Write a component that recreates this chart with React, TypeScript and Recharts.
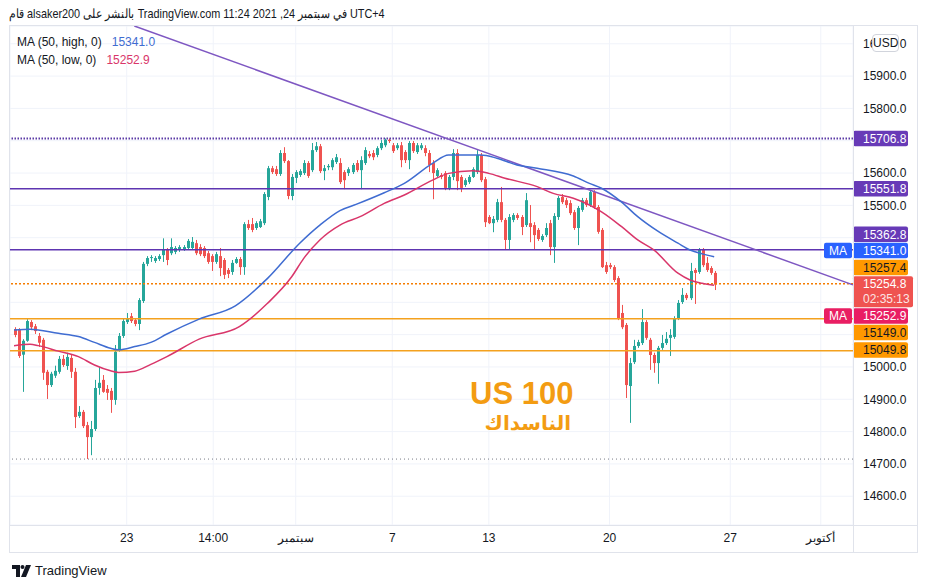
import React from 'react';
import { ComposedChart, Bar, Line, XAxis, YAxis, CartesianGrid, ReferenceLine } from 'recharts';

// ---- 4h candles (slot index = position in series) ----
const candleOpen = [
  15117, 15114, 15038, 15081, 15139, 15126, 15096, 15084, 14985, 14944,
  14973, 14985, 15025, 15003, 15028, 14985, 14848, 14861, 14820, 14783,
  14808, 14935, 14960, 14932, 14926, 14898, 15053, 15096, 15139, 15157,
  15145, 15133, 15204, 15319, 15337, 15328, 15334, 15346, 15362, 15352,
  15356, 15362, 15365, 15368, 15368, 15383, 15371, 15368, 15352, 15343,
  15325, 15343, 15331, 15300, 15294, 15322, 15334, 15309, 15442, 15442,
  15430, 15433, 15445, 15526, 15615, 15612, 15597, 15662, 15637, 15529,
  15585, 15594, 15600, 15631, 15609, 15671, 15683, 15606, 15618, 15618,
  15634, 15631, 15603, 15600, 15603, 15631, 15609, 15631, 15659, 15662,
  15656, 15677, 15686, 15703, 15686, 15677, 15686, 15665, 15640, 15693,
  15665, 15677, 15677, 15662, 15631, 15591, 15594, 15600, 15554, 15588,
  15662, 15588, 15563, 15572, 15588, 15603, 15656, 15581, 15464, 15445,
  15455, 15510, 15455, 15393, 15455, 15470, 15464, 15439, 15445, 15439,
  15424, 15393, 15408, 15445, 15371, 15464, 15526, 15516, 15507, 15479,
  15430, 15486, 15516, 15501, 15541, 15495, 15424, 15315, 15315, 15309,
  15275, 15167, 15130, 14941, 15015, 15065, 15074, 15139, 15084, 15037,
  15012, 15059, 15074, 15090, 15093, 15151, 15201, 15223, 15213, 15300,
  15294, 15362, 15322, 15306, 15291,
];
const candleHigh = [
  15123, 15120, 15086, 15148, 15145, 15133, 15105, 15090, 14991, 14985,
  15004, 15034, 15037, 15044, 15037, 14997, 14879, 14867, 14830, 14833,
  14960, 15000, 14975, 14944, 14935, 15068, 15105, 15151, 15167, 15167,
  15151, 15213, 15325, 15343, 15346, 15343, 15349, 15398, 15368, 15398,
  15374, 15377, 15377, 15396, 15402, 15393, 15380, 15374, 15359, 15349,
  15356, 15368, 15337, 15306, 15331, 15340, 15340, 15448, 15455, 15461,
  15451, 15458, 15541, 15622, 15622, 15622, 15671, 15680, 15640, 15597,
  15609, 15612, 15640, 15637, 15693, 15696, 15690, 15625, 15628, 15646,
  15659, 15646, 15609, 15618, 15631, 15640, 15652, 15680, 15668, 15671,
  15683, 15702, 15707, 15707, 15693, 15693, 15696, 15671, 15699, 15699,
  15693, 15693, 15686, 15671, 15640, 15615, 15600, 15606, 15594, 15674,
  15674, 15594, 15584, 15594, 15618, 15671, 15662, 15588, 15470, 15467,
  15520, 15557, 15461, 15473, 15476, 15476, 15470, 15538, 15501, 15448,
  15430, 15411, 15445, 15455, 15476, 15529, 15535, 15523, 15516, 15486,
  15498, 15523, 15523, 15547, 15547, 15501, 15430, 15325, 15322, 15315,
  15281, 15192, 15136, 15028, 15084, 15084, 15179, 15145, 15090, 15044,
  15065, 15099, 15108, 15117, 15157, 15207, 15244, 15229, 15322, 15306,
  15368, 15368, 15340, 15312, 15297,
];
const candleLow = [
  15092, 15028, 14923, 15078, 15114, 15102, 15062, 14960, 14901, 14938,
  14966, 14979, 15000, 14991, 14966, 14811, 14842, 14811, 14715, 14727,
  14802, 14914, 14920, 14898, 14858, 14883, 15047, 15090, 15133, 15136,
  15126, 15114, 15198, 15312, 15325, 15322, 15328, 15325, 15315, 15346,
  15349, 15356, 15359, 15362, 15362, 15346, 15343, 15337, 15319, 15297,
  15319, 15281, 15272, 15275, 15285, 15319, 15285, 15285, 15424, 15417,
  15424, 15430, 15439, 15516, 15597, 15591, 15591, 15631, 15519, 15516,
  15569, 15588, 15594, 15585, 15603, 15665, 15600, 15578, 15609, 15609,
  15628, 15566, 15550, 15591, 15597, 15603, 15550, 15625, 15646, 15640,
  15649, 15671, 15680, 15693, 15662, 15671, 15618, 15631, 15612, 15662,
  15659, 15671, 15652, 15603, 15519, 15585, 15581, 15547, 15547, 15578,
  15547, 15541, 15557, 15566, 15585, 15597, 15572, 15433, 15442, 15417,
  15448, 15448, 15362, 15362, 15448, 15455, 15408, 15433, 15386, 15362,
  15390, 15387, 15402, 15346, 15322, 15455, 15504, 15492, 15470, 15424,
  15377, 15480, 15495, 15495, 15489, 15412, 15306, 15288, 15303, 15263,
  15145, 15117, 14904, 14827, 15009, 15059, 15068, 15084, 14991, 14982,
  14948, 15053, 15068, 15034, 15087, 15145, 15195, 15207, 15207, 15195,
  15288, 15309, 15294, 15285, 15238,
];
const candleClose = [
  15099, 15034, 15081, 15142, 15123, 15111, 15075, 14982, 14944, 14979,
  14988, 15025, 15006, 15031, 14985, 14845, 14861, 14817, 14783, 14808,
  14935, 14951, 14923, 14920, 14898, 15047, 15096, 15142, 15151, 15142,
  15133, 15207, 15319, 15337, 15340, 15337, 15343, 15362, 15331, 15371,
  15368, 15371, 15371, 15390, 15387, 15352, 15349, 15343, 15325, 15325,
  15349, 15306, 15285, 15288, 15322, 15334, 15309, 15442, 15430, 15424,
  15445, 15451, 15535, 15615, 15603, 15597, 15662, 15637, 15529, 15588,
  15603, 15606, 15631, 15591, 15671, 15683, 15606, 15615, 15622, 15640,
  15649, 15572, 15578, 15612, 15625, 15609, 15640, 15671, 15652, 15649,
  15677, 15693, 15703, 15699, 15668, 15686, 15640, 15640, 15693, 15668,
  15686, 15686, 15662, 15625, 15600, 15609, 15588, 15554, 15588, 15662,
  15575, 15554, 15578, 15588, 15612, 15656, 15578, 15448, 15445, 15458,
  15510, 15455, 15393, 15464, 15470, 15461, 15433, 15516, 15433, 15408,
  15396, 15405, 15430, 15371, 15467, 15523, 15510, 15501, 15476, 15430,
  15492, 15516, 15501, 15541, 15495, 15418, 15309, 15294, 15309, 15269,
  15151, 15123, 14944, 15012, 15065, 15077, 15139, 15090, 15037, 15012,
  15059, 15074, 15087, 15099, 15151, 15198, 15223, 15213, 15297, 15291,
  15362, 15315, 15300, 15291, 15254.8,
];

// ---- MA(50, high) and MA(50, low), read at selected slots ----
const maHighSlots = [0, 4, 11, 16, 20, 24, 26, 30, 34, 38, 46, 55, 63, 71, 76, 81, 85, 92, 97, 104, 108, 116, 120, 125, 130, 139, 143, 146, 151, 155, 160, 165, 168, 171, 174];
const maHighValues = [15114, 15117, 15104, 15094, 15076, 15058, 15053, 15063, 15076, 15102, 15148, 15189, 15274, 15383, 15439, 15484, 15503, 15539, 15568, 15630, 15656, 15656, 15646, 15625, 15615, 15591, 15568, 15553, 15510, 15465, 15420, 15383, 15362, 15350, 15341];
const maLowSlots = [0, 4, 6, 11, 16, 20, 24, 26, 30, 34, 38, 46, 56, 63, 69, 72, 76, 81, 86, 92, 97, 104, 108, 114, 118, 122, 130, 134, 139, 143, 146, 151, 155, 159, 165, 168, 171, 174];
const maLowValues = [15066, 15070, 15066, 15049, 15032, 15006, 14988, 14983, 14987, 15008, 15032, 15086, 15125, 15197, 15279, 15336, 15393, 15439, 15465, 15506, 15532, 15578, 15599, 15607, 15599, 15584, 15558, 15537, 15522, 15501, 15480, 15434, 15393, 15362, 15290, 15269, 15259, 15253];
const maHighLast = 15341.0;
const maLowLast = 15252.9;

// ---- axes ----
const xDomain = [-1, 208.5];
const xTickSlots = [28, 49.5, 70, 94, 118, 148, 178, 200.5];
const xTickLabels = ['23', '14:00', 'سبتمبر', '7', '13', '20', '27', 'أكتوبر'];
const yDomain = [14511, 16055];
const yTicks = [14600, 14700, 14800, 14900, 15000, 15100, 15200, 15300, 15400, 15500, 15600, 15700, 15800, 15900, 16000];
const yTicksCovered = [15100, 15200, 15300, 15400, 15700];

// ---- drawn levels ----
const purpleLevels = [15551.8, 15362.8];
const topLevel = 15706.8;
const orangeDottedLevel = 15257.4;
const orangeLevels = [15149.0, 15049.8];
const lowDottedLevel = 14715;
const lastPrice = 15254.8;
const countdown = '02:35:13';
const trendStart = { slot: 29.9, price: 16055 };
const trendEnd = { slot: 208.5, price: 15254 };

const headerText = 'قام alsaker200 بالنشر على TradingView.com في سبتمبر 24, 2021 11:24 UTC+4';

const FONT = '"Liberation Sans", Arial, Helvetica, sans-serif';
const UP = '#26a69a';
const DOWN = '#ef5350';
const PURPLE = '#673ab7';
const ORANGE = '#ff9800';
const ORANGE_LINE = '#f4a11e';
const MA_BLUE = '#3f6cd1';
const MA_RED = '#d9366a';

const rows = candleOpen.map((o, i) => ({
  t: i,
  open: o,
  high: candleHigh[i],
  low: candleLow[i],
  close: candleClose[i],
  range: [candleLow[i], candleHigh[i]],
  maHigh: null as number | null,
  maLow: null as number | null,
}));
maHighSlots.forEach((s, j) => { rows[s].maHigh = maHighValues[j]; });
maLowSlots.forEach((s, j) => { rows[s].maLow = maLowValues[j]; });

const Candle = (props: any) => {
  const { x, y, width, height, payload } = props;
  if (!payload || x == null || y == null) return null;
  const { open, close, high, low } = payload;
  const top = Math.min(y, y + height);
  const h = Math.abs(height);
  const ratio = high === low ? 0 : h / (high - low);
  const yo = top + (high - open) * ratio;
  const yc = top + (high - close) * ratio;
  const color = close >= open ? UP : DOWN;
  const cx = Math.round(x + width / 2) + 0.5;
  const bt = Math.min(yo, yc);
  const bh = Math.max(1, Math.abs(yo - yc));
  return (
    <g>
      <line x1={cx} x2={cx} y1={top} y2={top + h} stroke={color} strokeWidth={1} />
      <rect x={cx - 1.5} y={bt} width={3} height={bh} fill={color} />
    </g>
  );
};

const PriceTag = (props: any) => {
  const { viewBox, text, sub, bg, fg, nudge = 0, tag } = props;
  if (!viewBox) return null;
  const axisX = viewBox.x + viewBox.width;
  const cy = viewBox.y + nudge;
  const w = sub ? 60 : 55;
  const h = sub ? 31 : 15.5;
  const top = cy - 7.75;
  return (
    <g style={{ fontFamily: FONT }}>
      {tag ? (
        <g>
          <rect x={axisX - 29} y={top} width={28} height={15.5} rx={2} fill={bg} />
          <text x={axisX - 15} y={cy} dy="0.36em" textAnchor="middle" fill="#ffffff" fontSize={12}>{tag}</text>
        </g>
      ) : null}
      <rect x={axisX} y={top} width={w} height={h} rx={2} fill={bg} />
      <text x={axisX + 10} y={cy} dy="0.36em" fill={fg} fontSize={12}>{text}</text>
      {sub ? <text x={axisX + 10} y={cy + 15} dy="0.36em" fill={fg} fontSize={12} opacity={0.85}>{sub}</text> : null}
    </g>
  );
};

export default function App() {
  return (
    <div style={{ position: 'absolute', left: 0, top: 0, width: 927, height: 588, background: '#ffffff', overflow: 'hidden', fontFamily: FONT }}>
      <div style={{ position: 'absolute', left: 9, top: 6, fontSize: 13, lineHeight: '16px', color: '#131722', whiteSpace: 'nowrap', direction: 'ltr', transform: 'scaleX(0.835)', transformOrigin: '0 0' }}>{headerText}</div>

      <div style={{ position: 'absolute', left: 10, top: 26 }}>
        <ComposedChart width={907} height={526} data={rows} margin={{ top: 0, right: 0, bottom: 0, left: 0 }}>
          <CartesianGrid stroke="#f0f3fa" strokeWidth={1} />
          <XAxis
            dataKey="t"
            type="number"
            domain={xDomain}
            allowDataOverflow
            ticks={xTickSlots}
            interval={0}
            tickFormatter={(v: number) => { const i = xTickSlots.indexOf(v); return i >= 0 ? xTickLabels[i] : ''; }}
            tickLine={false}
            axisLine={false}
            tickSize={0}
            tickMargin={8}
            height={27}
            tick={{ fill: '#131722', fontSize: 12, fontFamily: FONT }}
          />
          <YAxis
            orientation="right"
            type="number"
            domain={yDomain}
            allowDataOverflow
            ticks={yTicks}
            interval={0}
            tickFormatter={(v: number) => (yTicksCovered.includes(v) ? '' : v.toFixed(1))}
            tickLine={false}
            axisLine={false}
            tickSize={0}
            tickMargin={10}
            width={64}
            tick={{ fill: '#131722', fontSize: 12, fontFamily: FONT }}
          />

          <ReferenceLine y={lowDottedLevel} stroke="#787b86" strokeWidth={1} strokeDasharray="1 3" />
          <ReferenceLine y={topLevel} stroke="#5b3aa6" strokeWidth={2} strokeDasharray="1.5 1.5"
            label={<PriceTag text={topLevel.toFixed(1)} bg={PURPLE} fg="#ffffff" />} />
          {purpleLevels.map((v, i) => (
            <ReferenceLine key={'p' + i} y={v} stroke="#5e35b1" strokeWidth={1.5}
              label={<PriceTag text={v.toFixed(1)} bg={PURPLE} fg="#ffffff" nudge={i === 1 ? -15.5 : 0} />} />
          ))}
          <ReferenceLine y={orangeDottedLevel} stroke="#f57c00" strokeWidth={1.5} strokeDasharray="2 2"
            label={<PriceTag text={orangeDottedLevel.toFixed(1)} bg={ORANGE} fg="#131722" nudge={-16.3} />} />
          {orangeLevels.map((v, i) => (
            <ReferenceLine key={'o' + i} y={v} stroke={ORANGE_LINE} strokeWidth={1.5}
              label={<PriceTag text={v.toFixed(1)} bg={ORANGE} fg="#131722" nudge={i === 0 ? 13.7 : -0.9} />} />
          ))}

          <ReferenceLine
            segment={[{ x: trendStart.slot, y: trendStart.price }, { x: trendEnd.slot, y: trendEnd.price }]}
            stroke="#7e57c2" strokeWidth={1.5} ifOverflow="visible" />

          <Bar dataKey="range" barSize={3} shape={Candle} isAnimationActive={false} />
          <Line dataKey="maHigh" type="monotone" stroke={MA_BLUE} strokeWidth={1.5} dot={false} activeDot={false} connectNulls isAnimationActive={false} />
          <Line dataKey="maLow" type="monotone" stroke={MA_RED} strokeWidth={1.5} dot={false} activeDot={false} connectNulls isAnimationActive={false} />

          <ReferenceLine y={maHighLast} stroke="none"
            label={<PriceTag text={maHighLast.toFixed(1)} bg="#2962ff" fg="#ffffff" nudge={-6.2} tag="MA" />} />
          <ReferenceLine y={lastPrice} stroke="none"
            label={<PriceTag text={lastPrice.toFixed(1)} sub={countdown} bg="#ef5350" fg="#ffffff" nudge={-0.5} />} />
          <ReferenceLine y={maLowLast} stroke="none"
            label={<PriceTag text={maLowLast.toFixed(1)} bg="#e91e63" fg="#ffffff" nudge={30.8} tag="MA" />} />
        </ComposedChart>
      </div>

      {/* frame */}
      <div style={{ position: 'absolute', left: 9, top: 25, width: 909, height: 528, border: '1px solid #e0e3eb', boxSizing: 'border-box', pointerEvents: 'none' }} />
      <div style={{ position: 'absolute', left: 853, top: 26, width: 1, height: 526, background: '#e0e3eb' }} />
      <div style={{ position: 'absolute', left: 10, top: 525, width: 907, height: 1, background: '#e0e3eb' }} />

      {/* legend */}
      <div style={{ position: 'absolute', left: 17, top: 34, fontSize: 12, lineHeight: '16px', color: '#131722', whiteSpace: 'nowrap' }}>
        <div>MA (50, high, 0)<span style={{ marginLeft: 10, color: MA_BLUE }}>{maHighLast.toFixed(1)}</span></div>
        <div style={{ marginTop: 2 }}>MA (50, low, 0)<span style={{ marginLeft: 10, color: MA_RED }}>{maLowLast.toFixed(1)}</span></div>
      </div>

      {/* currency badge */}
      <div style={{ position: 'absolute', left: 872, top: 34, width: 27, height: 18, border: '1px solid #d1d4dc', borderRadius: 4, background: '#ffffff', boxSizing: 'border-box', fontSize: 12, lineHeight: '16px', textAlign: 'center', color: '#131722' }}>USD</div>

      {/* annotation text */}
      <svg width={927} height={588} style={{ position: 'absolute', left: 0, top: 0, pointerEvents: 'none' }}>
        <text x={470} y={404} fill="#f39c12" fontSize={31} fontWeight="bold" fontFamily={FONT}>US 100</text>
        <text x={571} y={430} fill="#f39c12" fontSize={20} fontWeight="bold" fontFamily='"DejaVu Sans", sans-serif' textAnchor="end">الناسداك</text>
      </svg>

      {/* footer logo */}
      <div style={{ position: 'absolute', left: 12, top: 563, display: 'flex', alignItems: 'center', color: '#131722' }}>
        <svg width={20} height={12} viewBox="0 0 20 12">
          <path d="M0 0 H8 V12 H4 V4 H0 Z" fill="#131722" />
          <circle cx={10.5} cy={2} r={2} fill="#131722" />
          <path d="M14 0 H19 L14 12 H9 Z" fill="#131722" />
        </svg>
        <span style={{ marginLeft: 3, fontSize: 13, lineHeight: '16px' }}>TradingView</span>
      </div>
    </div>
  );
}
